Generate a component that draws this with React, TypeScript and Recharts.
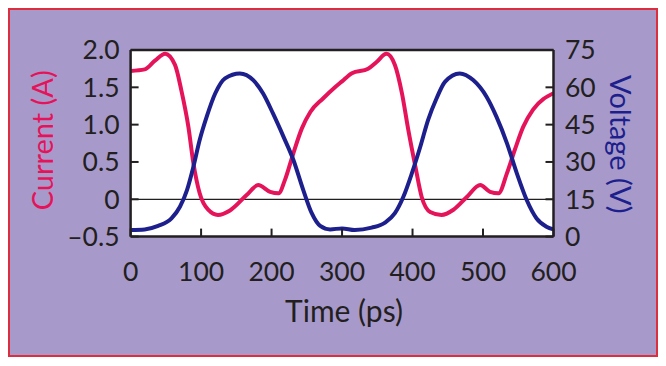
import React from "react";
import {
  CartesianGrid,
  Label,
  Line,
  LineChart,
  ReferenceLine,
  XAxis,
  YAxis,
} from "recharts";

// current trace (A)
const currentTimes = [0, 20, 35, 49, 63, 72, 82, 89, 98, 110, 124, 141, 165, 181, 198, 210, 219, 231, 243, 255, 273, 290, 300, 314, 337, 349, 363, 375, 385, 394, 404, 413, 425, 441, 458, 477, 496, 510, 522, 534, 545, 557, 571, 600];
const currentValues = [1.72, 1.74, 1.86, 1.95, 1.8, 1.46, 0.97, 0.49, 0.08, -0.14, -0.21, -0.15, 0.06, 0.19, 0.1, 0.08, 0.26, 0.62, 0.95, 1.17, 1.35, 1.5, 1.58, 1.69, 1.75, 1.84, 1.95, 1.8, 1.42, 0.93, 0.44, 0.03, -0.17, -0.21, -0.14, 0.03, 0.19, 0.1, 0.08, 0.35, 0.66, 0.97, 1.2, 1.42];

// voltage trace (V)
const voltageTimes = [0, 20, 39, 58, 70, 80, 89, 98, 108, 120, 134, 155, 174, 188, 202, 217, 231, 245, 257, 269, 283, 300, 318, 342, 361, 375, 387, 399, 411, 422, 434, 446, 467, 486, 505, 519, 534, 548, 562, 576, 590, 600];
const voltageValues = [2.7, 2.9, 4.3, 7.3, 12, 18.7, 28, 38.8, 48.2, 57.5, 63.6, 65.6, 62.9, 57.5, 49.5, 40.1, 30.8, 18.7, 9.4, 4.3, 2.9, 3.3, 2.65, 3.6, 5.6, 9.4, 16, 25.4, 36.1, 46.8, 55.5, 62.2, 65.6, 62.9, 56.2, 48.2, 37.5, 25.4, 14.7, 7.3, 4.0, 2.9];

const timeTicks = [0, 100, 200, 300, 400, 500, 600];
const currentTicks = [-0.5, 0, 0.5, 1.0, 1.5, 2.0];
const voltageTicks = [0, 15, 30, 45, 60, 75];

const currentData = currentTimes.map((t, i) => ({ t, current: currentValues[i] }));
const voltageData = voltageTimes.map((t, i) => ({ t, voltage: voltageValues[i] }));

const ink = "#231f20";
const red = "#e5145a";
const blue = "#1d1f8c";
const font = "Lato, sans-serif";
const tickStyle = { fontSize: 26.5, fill: ink, fontFamily: font };

const fmtCurrent = (v: number) => (v === 0 ? "0" : v.toFixed(1).replace("-", "\u2013"));

export default function App() {
  return (
    <div
      style={{
        position: "relative",
        width: 650,
        height: 349,
        boxSizing: "border-box",
        border: "2px solid #dc2e3f",
        background: "#a79acb",
      }}
    >
      <LineChart
        width={646}
        height={345}
        margin={{ top: 40, right: 0, bottom: 0, left: 0 }}
        style={{ position: "absolute", left: 0, top: 0 }}
      >
        <CartesianGrid fill="#ffffff" horizontal={false} vertical={false} />
        <XAxis
          dataKey="t"
          type="number"
          domain={[0, 600]}
          ticks={timeTicks}
          height={118.4}
          tickSize={-8}
          tickMargin={34}
          tick={tickStyle}
          tickLine={{ stroke: ink, strokeWidth: 2 }}
          axisLine={{ stroke: ink, strokeWidth: 2.5 }}
        >
          <Label
            content={({ viewBox }: any) => (
              <text
                x={viewBox.x + viewBox.width / 2 + 2}
                y={312}
                textAnchor="middle"
                fontSize={30}
                fontFamily={font}
                fill={ink}
              >
                Time (ps)
              </text>
            )}
          />
        </XAxis>
        <YAxis
          yAxisId="left"
          orientation="left"
          type="number"
          domain={[-0.5, 2]}
          ticks={currentTicks}
          width={120.6}
          tickSize={-8}
          tickMargin={19}
          tickFormatter={fmtCurrent}
          tick={tickStyle}
          tickLine={{ stroke: ink, strokeWidth: 2 }}
          axisLine={{ stroke: ink, strokeWidth: 2.5 }}
        >
          <Label
            content={({ viewBox }: any) => {
              const cx = 43;
              const cy = viewBox.y + viewBox.height / 2 - 3;
              return (
                <text
                  x={cx}
                  y={cy}
                  transform={`rotate(-90 ${cx} ${cy})`}
                  textAnchor="middle"
                  fontSize={29}
                  fontFamily={font}
                  fill={red}
                >
                  Current (A)
                </text>
              );
            }}
          />
        </YAxis>
        <YAxis
          yAxisId="right"
          orientation="right"
          type="number"
          domain={[0, 75]}
          ticks={voltageTicks}
          width={102.5}
          tickSize={-8}
          tickMargin={19.5}
          tick={tickStyle}
          tickLine={{ stroke: ink, strokeWidth: 2 }}
          axisLine={{ stroke: ink, strokeWidth: 2.5 }}
        >
          <Label
            content={({ viewBox }: any) => {
              const cx = 600;
              const cy = viewBox.y + viewBox.height / 2 + 1;
              return (
                <text
                  x={cx}
                  y={cy}
                  transform={`rotate(90 ${cx} ${cy})`}
                  textAnchor="middle"
                  fontSize={29}
                  fontFamily={font}
                  fill={blue}
                >
                  Voltage (V)
                </text>
              );
            }}
          />
        </YAxis>
        <ReferenceLine yAxisId="left" y={0} stroke={ink} strokeWidth={1.2} />
        <ReferenceLine yAxisId="left" y={2} stroke={ink} strokeWidth={2.5} />
        <Line
          yAxisId="left"
          data={currentData}
          dataKey="current"
          type="monotone"
          stroke={red}
          strokeWidth={4}
          dot={false}
          isAnimationActive={false}
        />
        <Line
          yAxisId="right"
          data={voltageData}
          dataKey="voltage"
          type="monotone"
          stroke={blue}
          strokeWidth={4}
          dot={false}
          isAnimationActive={false}
        />
      </LineChart>
    </div>
  );
}
